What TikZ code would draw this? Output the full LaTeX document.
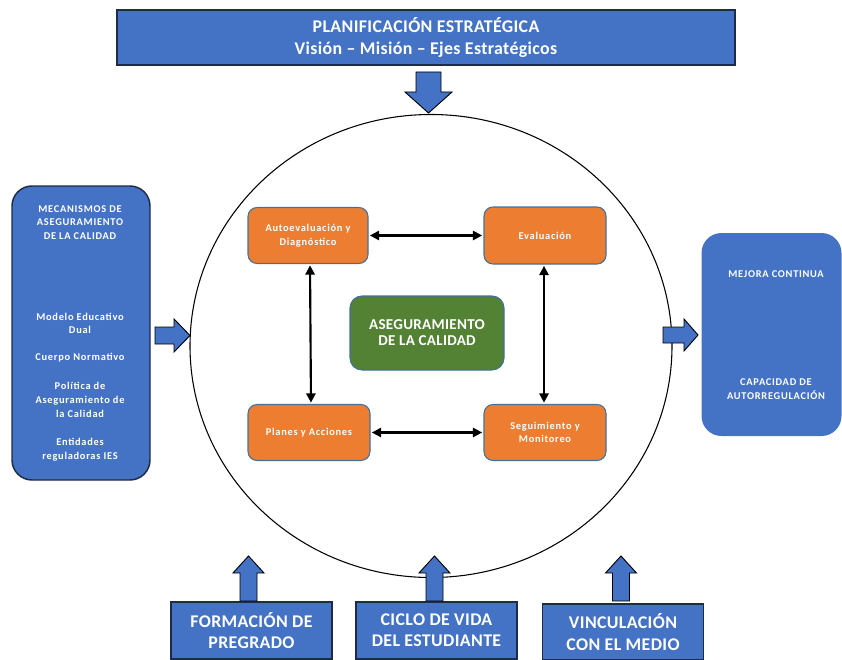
\documentclass[tikz,border=0pt]{standalone}
\usepackage{fontspec}
\setmainfont{Carlito}
\usetikzlibrary{shapes.geometric,arrows.meta}
\definecolor{oblue}{HTML}{4472C4}
\definecolor{oorange}{HTML}{ED7D31}
\definecolor{ogreen}{HTML}{548235}
\definecolor{edgeblue}{HTML}{41719C}
\definecolor{navy}{HTML}{1F2A44}
\def\px{0.75pt}
\newcommand{\smallfnt}{\bfseries\fontsize{7.8}{10.3}\selectfont\addfontfeatures{LetterSpace=7}}
\newcommand{\bigfnt}{\bfseries\fontsize{13.4}{16}\selectfont\addfontfeatures{LetterSpace=2}}
\tikzset{
  bluebox/.style={draw=navy, line width=1.1pt, fill=oblue, text=white, align=center, inner sep=0pt},
  sidebox/.style={fill=oblue, text=white, align=center, inner sep=0pt, rounded corners=20*\px},
  orangebox/.style={draw=edgeblue, line width=0.8pt, fill=oorange, text=white, align=center, rounded corners=9*\px, inner sep=0pt, font=\smallfnt},
  greenbox/.style={draw=edgeblue, line width=0.8pt, fill=ogreen, text=white, align=center, rounded corners=12*\px, inner sep=0pt, font=\bfseries\fontsize{11.3}{12}\selectfont\addfontfeatures{LetterSpace=2}},
  dblarrow/.style={line width=1.6pt, {Triangle[length=7pt,width=7pt]}-{Triangle[length=7pt,width=7pt]}, shorten <=1pt, shorten >=1pt},
  blockarrow/.style={fill=oblue, draw=black, line width=0.7pt, line join=miter},
  small/.style={font=\smallfnt, text=white, align=center}
}
\begin{document}
\begin{tikzpicture}[x=0.75pt,y=-0.75pt]
\useasboundingbox (0,0) rectangle (842,660);

% top box
\node[bluebox, minimum width=618*\px, minimum height=55*\px, font=\bigfnt] (top) at (426,37.5)
  {PLANIFICACIÓN ESTRATÉGICA\\Visión – Misión – Ejes Estratégicos};

% big circle
\node[ellipse, draw=black, line width=0.8pt, minimum width=482*\px, minimum height=463*\px, inner sep=0pt] (circ) at (431,346) {};

% side boxes
\node[sidebox, draw=navy, line width=1.1pt, minimum width=138*\px, minimum height=294*\px] (lbox) at (81,333) {};
\node[sidebox, minimum width=140*\px, minimum height=203*\px] (rbox) at (771.5,334.5) {};

% left box texts
\node[small] (l1) at (80,222.5) {MECANISMOS DE\\ASEGURAMIENTO\\DE LA CALIDAD};
\node[small] (l2) at (80,323.5) {Modelo Educativo\\Dual};
\node[small] (l3) at (80,358) {Cuerpo Normativo};
\node[small] (l4) at (80,400) {Política de\\Aseguramiento de\\la Calidad};
\node[small] (l5) at (80,449.5) {Entidades\\reguladoras IES};

% right box texts
\node[small] (r1) at (776,274) {MEJORA CONTINUA};
\node[small] (r2) at (776,389) {CAPACIDAD DE\\AUTORREGULACIÓN};

% inner process boxes
\node[orangebox, minimum width=120*\px, minimum height=56*\px] (A) at (308,235.5) {Autoevaluación y\\Diagnóstico};
\node[orangebox, minimum width=122*\px, minimum height=57*\px] (E) at (545,235.5) {Evaluación};
\node[orangebox, minimum width=122*\px, minimum height=56*\px] (P) at (309,432.5) {Planes y Acciones};
\node[orangebox, minimum width=122*\px, minimum height=56*\px] (S) at (545,432.5) {Seguimiento y\\Monitoreo};
\node[greenbox, minimum width=154*\px, minimum height=74*\px] (G) at (427,333) {ASEGURAMIENTO\\DE LA CALIDAD};

% double arrows
\draw[dblarrow] (A.east) -- (E.west);
\draw[dblarrow] (P.east) -- (S.west);
\draw[dblarrow] ([xshift=2*\px]A.south) -- ([xshift=2*\px]P.north);
\draw[dblarrow] ([xshift=-1*\px]E.south) -- ([xshift=-1*\px]S.north);

% bottom boxes
\node[bluebox, minimum width=161*\px, minimum height=57*\px, font=\bigfnt] (F) at (251.5,630.5) {FORMACIÓN DE\\PREGRADO};
\node[bluebox, minimum width=161*\px, minimum height=57*\px, font=\bigfnt] (C) at (436.5,630.5) {CICLO DE VIDA\\DEL ESTUDIANTE};
\node[bluebox, minimum width=161*\px, minimum height=56*\px, font=\bigfnt] (V) at (623,632) {VINCULACIÓN\\CON EL MEDIO};

% block arrows
% top, pointing down
\draw[blockarrow] (416,72) -- (441,72) -- (441,92) -- (452,92) -- (428.5,113) -- (405,92) -- (416,92) -- cycle;
% left, pointing right
\draw[blockarrow] (155,327) -- (174,327) -- (174,319) -- (190,335.5) -- (174,352) -- (174,344) -- (155,344) -- cycle;
% right, pointing right
\draw[blockarrow] (663,327) -- (684,327) -- (684,319) -- (698,335) -- (684,351) -- (684,343) -- (663,343) -- cycle;
% bottom, pointing up
\foreach \cx in {248.5,434.5,621}{
  \draw[blockarrow] (\cx-8.5,601) -- (\cx-8.5,573) -- (\cx-15.5,573) -- (\cx,556) -- (\cx+15.5,573) -- (\cx+8.5,573) -- (\cx+8.5,601) -- cycle;
}
\end{tikzpicture}
\end{document}
